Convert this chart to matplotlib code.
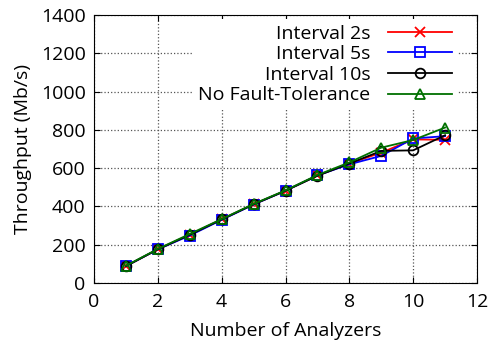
import matplotlib
matplotlib.use("Agg")
import matplotlib.pyplot as plt

# data
analyzers = [1, 2, 3, 4, 5, 6, 7, 8, 9, 10, 11]
interval_2s = [88, 176, 252, 332, 411, 482, 562, 624, 681, 750, 748]
interval_5s = [88, 176, 248, 330, 410, 482, 562, 620, 664, 755, 767]
interval_10s = [88, 176, 252, 332, 411, 482, 560, 624, 690, 693, 772]
no_ft = [90, 178, 256, 334, 413, 484, 564, 630, 707, 747, 812]

plt.rcParams['font.family'] = ['Open Sans', 'DejaVu Sans']
plt.rcParams['font.size'] = 14

fig = plt.figure(figsize=(4.91, 3.52), dpi=100)
ax = fig.add_axes([94/491, 1 - 283/352, (477-94)/491, (283-15)/352])

ax.plot(analyzers, interval_2s, color='red', marker='x', ms=7, mew=1.3, lw=1.3, label='Interval 2s')
ax.plot(analyzers, interval_5s, color='blue', marker='s', ms=7, mfc='none', mew=1.3, lw=1.3, label='Interval 5s')
ax.plot(analyzers, interval_10s, color='black', marker='o', ms=7, mfc='none', mew=1.3, lw=1.3, label='Interval 10s')
ax.plot(analyzers, no_ft, color='#007000', marker='^', ms=7, mfc='none', mew=1.3, lw=1.3, label='No Fault-Tolerance')

ax.set_xlim(0, 12)
ax.set_ylim(0, 1400)
ax.set_xticks(range(0, 13, 2))
ax.set_yticks(range(0, 1401, 200))
ax.grid(True, color='#555555', linestyle=':', linewidth=0.9)
ax.tick_params(direction='in', top=True, right=True, length=4, labelsize=14)
ax.tick_params(axis='x', pad=7)
ax.tick_params(axis='y', pad=6)
ax.set_xlabel('Number of Analyzers', labelpad=8)
ax.set_ylabel('Throughput (Mb/s)', labelpad=6)

leg = ax.legend(loc='upper right', markerfirst=False, frameon=True, fancybox=False,
                handlelength=3.3, labelspacing=0.13, borderaxespad=0.2, handletextpad=0.9,
                borderpad=0.3, fontsize=14, bbox_to_anchor=(0.96, 1.0))
leg.get_frame().set_edgecolor('none')
leg.get_frame().set_facecolor('white')
leg.get_frame().set_alpha(1)
for t in leg.get_texts():
    t.set_ha('right')

fig.savefig('out.png', dpi=100)
